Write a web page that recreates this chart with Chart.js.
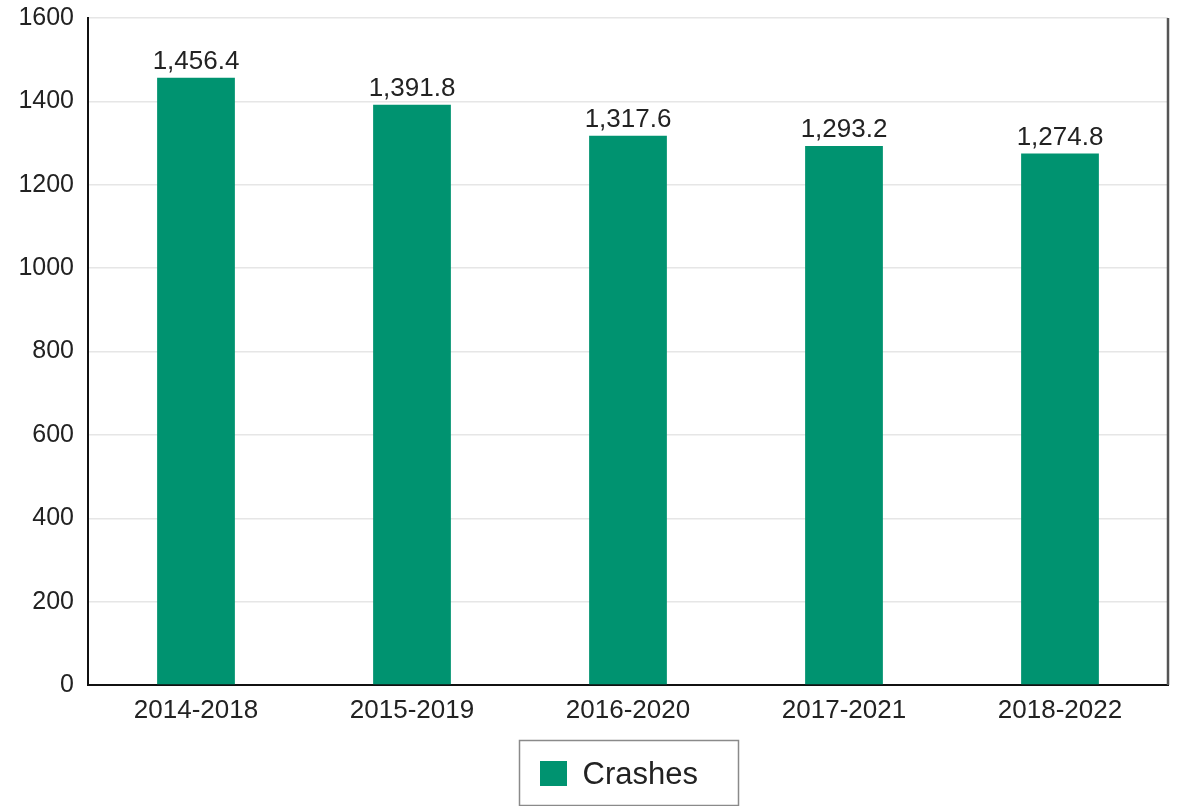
<!DOCTYPE html>
<html>
<head>
<meta charset="utf-8">
<script src="https://cdn.jsdelivr.net/npm/chart.js@4/dist/chart.umd.min.js"></script>
<style>
  html, body { margin: 0; padding: 0; background: #fff; }
  #wrap { width: 1183px; height: 806px; }
</style>
</head>
<body>
<div id="wrap"><canvas id="crashChart" width="1183" height="806"></canvas></div>
<script>
'use strict'

var periods = ['2014-2018', '2015-2019', '2016-2020', '2017-2021', '2018-2022'];
var crashes = [1456.4, 1391.8, 1317.6, 1293.2, 1274.8];
var yTicks = [0, 200, 400, 600, 800, 1000, 1200, 1400, 1600];

var barColor = '#009370';
var fontName = '"Liberation Sans", Arial, sans-serif';

// value labels above bars, right frame line and boxed legend
var extras = {
  id: 'extras',
  afterDatasetsDraw: function (chart) {
    var ctx = chart.ctx;
    var meta = chart.getDatasetMeta(0);
    ctx.save();
    ctx.font = '26px ' + fontName;
    ctx.fillStyle = '#222';
    ctx.textAlign = 'center';
    ctx.textBaseline = 'alphabetic';
    meta.data.forEach(function (bar, i) {
      var txt = crashes[i].toLocaleString('en-US', { minimumFractionDigits: 1 });
      ctx.fillText(txt, bar.x, bar.y - 9);
    });
    ctx.restore();
  },
  afterDraw: function (chart) {
    var ctx = chart.ctx;
    var area = chart.chartArea;
    ctx.save();
    ctx.strokeStyle = '#555';
    ctx.lineWidth = 2.5;
    ctx.beginPath();
    ctx.moveTo(area.right, area.top);
    ctx.lineTo(area.right, area.bottom);
    ctx.stroke();

    var label = chart.data.datasets[0].label;
    var boxW = 219, boxH = 65;
    var cx = (area.left + area.right) / 2;
    var bx = Math.round(cx - boxW / 2) + 0.5;
    var by = 740.5;
    ctx.strokeStyle = '#8a8a8a';
    ctx.lineWidth = 1.5;
    ctx.strokeRect(bx, by, boxW, boxH);
    ctx.fillStyle = barColor;
    ctx.fillRect(bx + 20.5, by + 20.5, 27, 25);
    ctx.font = '31px ' + fontName;
    ctx.fillStyle = '#222';
    ctx.textAlign = 'left';
    ctx.textBaseline = 'alphabetic';
    ctx.fillText(label, bx + 63, by + 43);
    ctx.restore();
  }
};

new Chart(document.getElementById('crashChart'), {
  type: 'bar',
  data: {
    labels: periods,
    datasets: [
      {
        label: 'Crashes',
        data: crashes,
        backgroundColor: barColor,
        barPercentage: 0.36,
        categoryPercentage: 1
      }]
  },
  options: {
    responsive: false,
    animation: false,
    layout: { padding: { top: 0, right: 15, left: 0, bottom: 0 } },
    plugins: {
      legend: { display: false },
      tooltip: { enabled: false }
    },
    scales: {
      x: {
        grid: { display: false, drawTicks: false },
        border: { color: '#111', width: 2 },
        ticks: { font: { family: fontName, size: 26 }, color: '#222', padding: 10 },
        afterFit: function (scale) { scale.height = 121; }
      },
      y: {
        min: 0,
        max: 1600,
        afterBuildTicks: function (scale) {
          scale.ticks = yTicks.map(function (v) { return { value: v }; });
        },
        grid: { color: '#e6e6e6', lineWidth: 1.5, drawTicks: false },
        border: { color: '#111', width: 2 },
        ticks: {
          font: { family: fontName, size: 25 },
          color: '#222',
          padding: 14,
          callback: function (v) { return String(v); }
        },
        afterFit: function (scale) {
          scale.width = 88;
          scale.paddingTop = 18;
        }
      }
    }
  },
  plugins: [extras]
});
</script>
</body>
</html>
